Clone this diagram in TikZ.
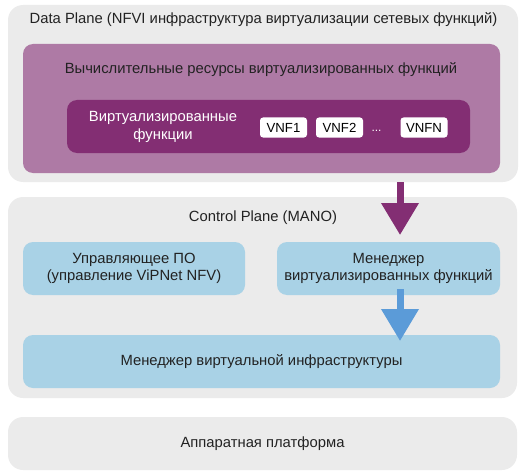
\documentclass[tikz,border=0pt]{standalone}
\usepackage{fontspec}
\setmainfont{Liberation Sans}
\usetikzlibrary{arrows.meta}
\definecolor{greybg}{HTML}{EBEBEB}
\definecolor{lpurple}{HTML}{AE7AA5}
\definecolor{dpurple}{HTML}{832E73}
\definecolor{lblue}{HTML}{A9D2E6}
\definecolor{darrow}{HTML}{5B9BD8}
\definecolor{txt}{HTML}{222222}
\tikzset{
  box/.style={draw=none, rounded corners=#1, inner sep=0pt, anchor=center},
  lbl/.style={text=txt, font=\fontsize{14.8}{17.5}\selectfont, align=center, inner sep=0pt},
  vnf/.style={box=3pt, fill=white, minimum width=47pt, minimum height=20pt, text=black, font=\fontsize{13.2}{15}\selectfont},
  bigarrow/.style={line width=7pt, -{Triangle[width=36pt,length=32pt]}, shorten >=0pt}
}
\begin{document}
\begin{tikzpicture}[x=1pt,y=-1pt]
\useasboundingbox (0,0) rectangle (527,476);
% Data plane
\node[box=15pt, fill=greybg, minimum width=510pt, minimum height=177pt] (dp) at (263,93.5) {};
\node[lbl] (dpt) at (263.5,20) {Data Plane (NFVI инфраструктура виртуализации сетевых функций)};
\node[box=10pt, fill=lpurple, minimum width=477pt, minimum height=129pt] (vr) at (261.5,108.5) {};
\node[lbl] (vrt) at (261,70) {Вычислительные ресурсы виртуализированных функций};
\node[box=10pt, fill=dpurple, minimum width=403pt, minimum height=53pt] (vf) at (268.5,126.5) {};
\node[lbl, text=white] (vft) at (163,127) {Виртуализированные\\функции};
\node[vnf] (v1) at (283.5,127.5) {VNF1};
\node[vnf] (v2) at (339.5,127.5) {VNF2};
\node[lbl, text=white, font=\fontsize{12}{14}\selectfont] (dots) at (376.5,131) {...};
\node[vnf] (vn) at (424,127.5) {VNFN};
% Control plane
\node[box=15pt, fill=greybg, minimum width=509pt, minimum height=201pt] (cp) at (262.5,297.5) {};
\node[lbl] (cpt) at (263,218) {Control Plane (MANO)};
\node[box=10pt, fill=lblue, minimum width=222pt, minimum height=53pt, lbl] (po) at (134,268.5) {Управляющее ПО\\(управление ViPNet NFV)};
\node[box=10pt, fill=lblue, minimum width=223pt, minimum height=53pt, lbl] (vnfm) at (388.5,268.5) {Менеджер\\виртуализированных функций};
\node[box=10pt, fill=lblue, minimum width=477pt, minimum height=53pt, lbl] (vim) at (261.5,361.5) {Менеджер виртуальной инфраструктуры};
% Hardware
\node[box=15pt, fill=greybg, minimum width=509pt, minimum height=53pt, lbl] (hw) at (262.5,443.5) {Аппаратная платформа};
% Arrows
\coordinate (pa1) at (400,182);
\coordinate (pa2) at (400,235);
\coordinate (ba1) at (400,289);
\coordinate (ba2) at (400,341);
\draw[bigarrow, draw=dpurple, fill=dpurple] (pa1) -- (pa2);
\draw[bigarrow, draw=darrow, fill=darrow] (ba1) -- (ba2);
\end{tikzpicture}
\end{document}
